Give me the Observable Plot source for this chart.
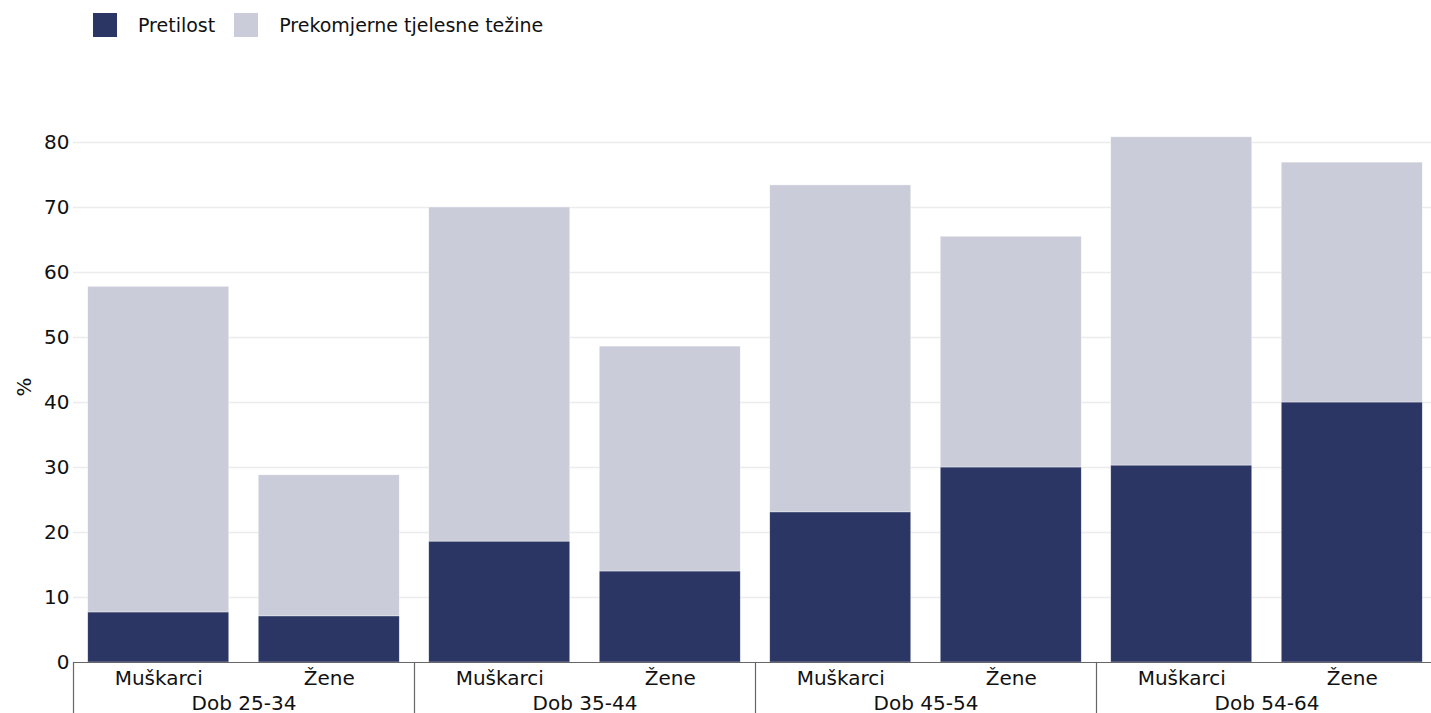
<!DOCTYPE html>
<html>
<head>
<meta charset="utf-8">
<script src="https://cdn.jsdelivr.net/npm/d3@7"></script>
<script src="https://cdn.jsdelivr.net/npm/@observablehq/plot@0.6"></script>
<style>
  html, body { margin: 0; padding: 0; background: #fff; overflow: hidden; width: 1431px; }
  #wrap { width: 1431px; height: 713px; overflow: hidden; position: relative; }
  #legend { height: 50px; box-sizing: border-box; padding-left: 93px; padding-top: 13px; display: flex; align-items: flex-start; font-family: "DejaVu Sans", sans-serif; font-size: 19px; color: #111; }
  .item { display: flex; align-items: center; margin-right: 19px; height: 24px; }
  .sw { width: 24px; height: 24px; margin-right: 21px; }
  #chart { width: 1431px; overflow: hidden; }
  #chart svg { display: block; max-width: none; }
</style>
</head>
<body>
<div id="wrap">
<div id="legend"></div>
<div id="chart"></div>
</div>
<script>
const groups = ["Dob 25-34", "Dob 35-44", "Dob 45-54", "Dob 54-64"];
const sexes = ["Muškarci", "Žene"];
const seriesNames = ["Pretilost", "Prekomjerne tjelesne težine"];
const seriesColors = ["#2b3664", "#cacdd9"];
// values in order: group1 M, group1 Ž, group2 M, ...
const pretilost = [7.7, 7.1, 18.6, 14.0, 23.1, 30.0, 30.3, 40.0];
const prekomjerna = [50.1, 21.7, 51.4, 34.6, 50.3, 35.5, 50.5, 36.9];
const yTicks = [0, 10, 20, 30, 40, 50, 60, 70, 80];
const yLabel = "%";

const data = [];
[pretilost, prekomjerna].forEach((vals, s) => {
  vals.forEach((v, i) => {
    data.push({group: groups[Math.floor(i / 2)], sex: sexes[i % 2], series: seriesNames[s], value: v});
  });
});

// legend
const legend = document.getElementById("legend");
seriesNames.forEach((n, i) => {
  const it = document.createElement("div");
  it.className = "item";
  it.innerHTML = `<div class="sw" style="background:${seriesColors[i]}"></div><span>${n}</span>`;
  legend.appendChild(it);
});

const W = 1437, H = 663, ML = 73, MT = 92, MB = 51;
const chart = Plot.plot({
  width: W,
  height: H,
  marginLeft: ML,
  marginRight: 0,
  marginTop: MT,
  marginBottom: MB,
  facet: {marginTop: 0, marginBottom: 0, marginLeft: 0, marginRight: 0},
  style: {fontFamily: "DejaVu Sans, sans-serif", fontSize: "20px", color: "#111", background: "#fff", maxWidth: "none"},
  fx: {domain: groups, padding: 0, round: false, axis: "bottom", tickSize: 0, tickPadding: 33, label: null},
  x: {domain: sexes, paddingInner: 0.173, paddingOuter: 0.0865, round: false, axis: "bottom", tickSize: 0, tickPadding: 8, label: null},
  y: {domain: [0, 80], range: [H - MB, MT], ticks: yTicks, tickSize: 0, tickPadding: 4, label: null},
  color: {domain: seriesNames, range: seriesColors},
  marks: [
    Plot.ruleY(yTicks.slice(1), {stroke: "#ececec", strokeWidth: 1.5}),
    Plot.barY(data, {fx: "group", x: "sex", y: "value", fill: "series", stroke: "#fff", strokeWidth: 0.6, strokeOpacity: 0.6}),
    Plot.ruleY([0], {stroke: "#666", strokeWidth: 1.2}),
    Plot.frame({anchor: "left", stroke: "#666", strokeWidth: 1.2, insetTop: H - MT - MB, insetBottom: -MB}),
    Plot.text([{g: groups[0], t: yLabel}], {fx: "g", text: "t", frameAnchor: "left", rotate: -90, dx: -49, dy: -6, fontSize: 20, fill: "#111"})
  ]
});
document.getElementById("chart").appendChild(chart);
</script>
</body>
</html>
